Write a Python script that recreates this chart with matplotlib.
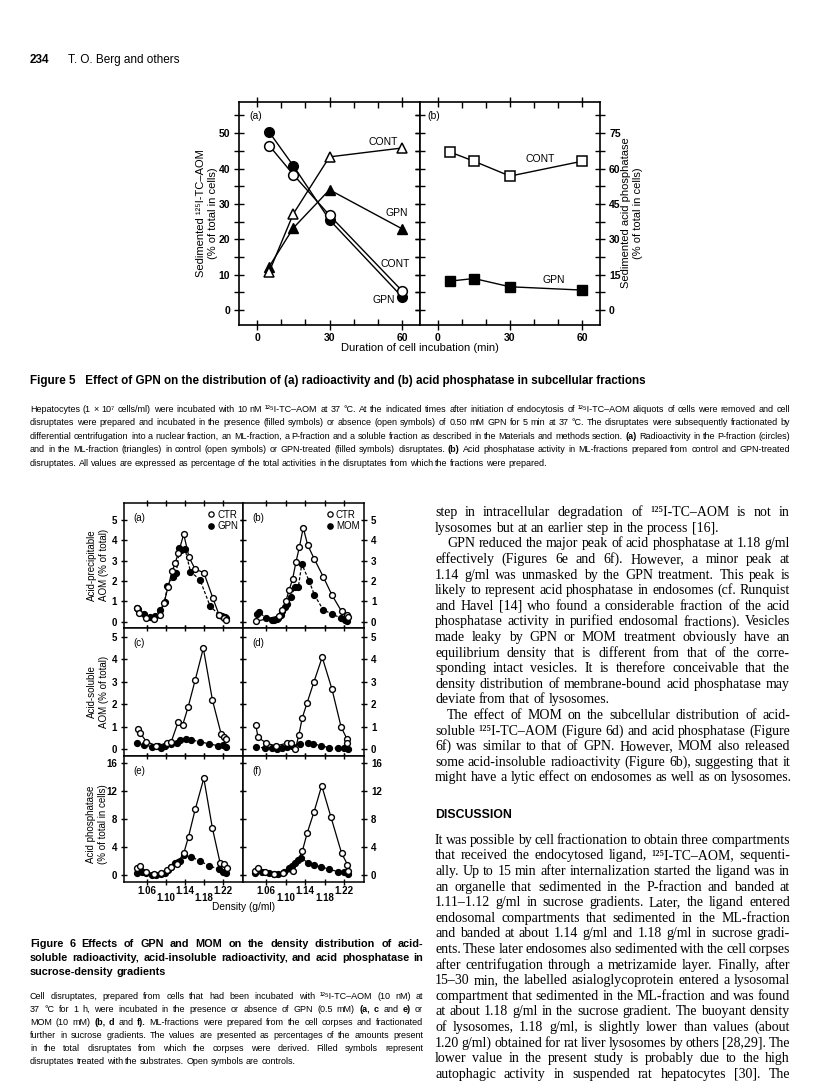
import matplotlib
matplotlib.use('Agg')
import matplotlib.pyplot as plt
from matplotlib.lines import Line2D
from matplotlib.ticker import MultipleLocator, FixedLocator

W, H = 816, 1089
SANS = ['Liberation Sans', 'DejaVu Sans']
SERIF = ['Liberation Serif', 'DejaVu Serif']
plt.rcParams['font.family'] = SANS

# ---------------- data: Figure 5 ----------------
times = [5, 15, 30, 60]
p_cont = [46.5, 38.3, 26.8, 5.5]
p_gpn = [50.3, 40.8, 25.5, 3.8]
ml_cont = [10.8, 27.2, 43.3, 45.8]
ml_gpn = [12.3, 23.2, 34.0, 23.0]
acp_cont = [67.0, 63.1, 56.8, 63.1]
acp_gpn = [12.3, 13.4, 9.9, 8.5]

# ---------------- data: Figure 6 ----------------
dens_ticks = [1.06, 1.10, 1.14, 1.18, 1.22]
dens_labels = ['1.06', '1.10', '1.14', '1.18', '1.22']

dens_a_ctr = [1.040, 1.044, 1.057, 1.075, 1.087, 1.096, 1.104, 1.113, 1.119, 1.126, 1.137, 1.148, 1.161, 1.179, 1.198, 1.211, 1.222, 1.225]
val_a_ctr = [0.67, 0.42, 0.18, 0.13, 0.34, 0.95, 1.70, 2.50, 2.88, 3.40, 4.30, 3.17, 2.58, 2.42, 1.16, 0.34, 0.18, 0.07]
dens_a_gpn = [1.039, 1.042, 1.0545, 1.066, 1.077, 1.088, 1.097, 1.103, 1.115, 1.1215, 1.128, 1.132, 1.140, 1.151, 1.171, 1.192, 1.211, 1.218, 1.223, 1.225]
val_a_gpn = [0.67, 0.62, 0.39, 0.23, 0.29, 0.59, 0.98, 1.76, 2.22, 2.42, 3.64, 3.53, 3.56, 2.47, 2.06, 0.78, 0.34, 0.29, 0.26, 0.18]

dens_b_ctr = [1.038, 1.086, 1.093, 1.100, 1.107, 1.114, 1.121, 1.128, 1.136, 1.145, 1.159, 1.177, 1.195, 1.215, 1.2255, 1.228]
val_b_ctr = [0.02, 0.29, 0.59, 1.00, 1.57, 2.09, 2.94, 3.66, 4.62, 3.77, 3.07, 2.22, 1.32, 0.51, 0.34, 0.26]
dens_b_mom = [1.041, 1.045, 1.060, 1.072, 1.076, 1.081, 1.085, 1.090, 1.093, 1.099, 1.103, 1.110, 1.119, 1.126, 1.133, 1.148, 1.159, 1.177, 1.195, 1.214, 1.221, 1.226]
val_b_mom = [0.39, 0.47, 0.18, 0.10, 0.07, 0.13, 0.18, 0.34, 0.51, 0.75, 0.88, 1.21, 1.70, 1.73, 2.84, 2.01, 1.32, 0.59, 0.39, 0.18, 0.07, 0.02]

dens_c_ctr = [1.041, 1.045, 1.059, 1.080, 1.101, 1.111, 1.125, 1.135, 1.146, 1.161, 1.178, 1.197, 1.215, 1.222, 1.226]
val_c_ctr = [0.92, 0.74, 0.34, 0.15, 0.27, 0.34, 1.20, 1.10, 1.86, 3.08, 4.49, 2.19, 0.70, 0.53, 0.46]
dens_c_gpn = [1.039, 1.054, 1.070, 1.083, 1.090, 1.097, 1.111, 1.122, 1.130, 1.141, 1.153, 1.170, 1.190, 1.208, 1.220, 1.225]
val_c_gpn = [0.29, 0.19, 0.12, 0.15, 0.04, 0.15, 0.24, 0.29, 0.41, 0.44, 0.41, 0.34, 0.24, 0.16, 0.19, 0.12]

dens_d_ctr = [1.038, 1.043, 1.060, 1.080, 1.103, 1.110, 1.120, 1.127, 1.134, 1.144, 1.158, 1.175, 1.195, 1.214, 1.226, 1.227]
val_d_ctr = [1.10, 0.53, 0.27, 0.15, 0.27, 0.29, 0.02, 0.64, 1.40, 2.07, 3.00, 4.09, 2.68, 0.98, 0.46, 0.29]
dens_d_mom = [1.039, 1.058, 1.072, 1.082, 1.093, 1.103, 1.113, 1.130, 1.146, 1.157, 1.172, 1.189, 1.208, 1.220, 1.229]
val_d_mom = [0.12, 0.04, 0.04, 0.01, 0.04, 0.12, 0.16, 0.24, 0.27, 0.24, 0.16, 0.07, 0.04, 0.04, 0.01]

dens_e_ctr = [1.040, 1.045, 1.059, 1.075, 1.090, 1.101, 1.111, 1.122, 1.137, 1.147, 1.161, 1.179, 1.197, 1.213, 1.221, 1.227]
val_e_ctr = [1.05, 1.29, 0.48, 0.10, 0.30, 0.72, 1.19, 1.58, 3.10, 5.50, 9.40, 13.85, 6.70, 1.77, 1.53, 1.05]
dens_e_gpn = [1.040, 1.050, 1.059, 1.070, 1.080, 1.090, 1.097, 1.104, 1.111, 1.118, 1.125, 1.130, 1.137, 1.153, 1.171, 1.190, 1.211, 1.220, 1.225]
val_e_gpn = [0.33, 0.48, 0.24, 0.0, 0.0, 0.14, 0.33, 0.72, 1.19, 1.67, 1.90, 2.05, 2.87, 2.62, 2.00, 1.33, 0.82, 0.48, 0.33]

dens_f_ctr = [1.037, 1.042, 1.058, 1.075, 1.095, 1.115, 1.134, 1.144, 1.158, 1.174, 1.193, 1.215, 1.227, 1.228]
val_f_ctr = [0.62, 0.96, 0.48, 0.15, 0.25, 0.60, 3.40, 6.00, 9.00, 12.80, 8.30, 3.10, 1.50, 0.62]
dens_f_mom = [1.037, 1.051, 1.065, 1.075, 1.085, 1.096, 1.106, 1.113, 1.120, 1.126, 1.132, 1.146, 1.158, 1.173, 1.189, 1.208, 1.219, 1.228]
val_f_mom = [0.24, 0.38, 0.24, 0.14, 0.20, 0.48, 0.96, 1.29, 1.77, 2.15, 2.39, 1.77, 1.43, 1.19, 0.82, 0.48, 0.38, 0.10]

# ---------------- text ----------------
fig5_title = 'Figure 5   Effect of GPN on the distribution of (a) radioactivity and (b) acid phosphatase in subcellular fractions'
fig5_caption = [
    'Hepatocytes (1 × 10⁷ cells/ml) were incubated with 10 nM ¹²⁵I-TC–AOM at 37 °C. At the indicated times after initiation of endocytosis of ¹²⁵I-TC–AOM aliquots of cells were removed and cell',
    'disruptates were prepared and incubated in the presence (filled symbols) or absence (open symbols) of 0.50 mM GPN for 5 min at 37 °C. The disruptates were subsequently fractionated by',
    'differential centrifugation into a nuclear fraction, an ML-fraction, a P-fraction and a soluble fraction as described in the Materials and methods section. §(a) Radioactivity in the P-fraction (circles)',
    'and in the ML-fraction (triangles) in control (open symbols) or GPN-treated (filled symbols) disruptates. §(b) Acid phosphatase activity in ML-fractions prepared from control and GPN-treated',
    'disruptates. All values are expressed as percentage of the total activities in the disruptates from which the fractions were prepared.',
]
fig6_title = [
    'Figure 6   Effects of GPN and MOM on the density distribution of acid-',
    'soluble radioactivity, acid-insoluble radioactivity, and acid phosphatase in',
    'sucrose-density gradients',
]
fig6_caption = [
    'Cell disruptates, prepared from cells that had been incubated with ¹²⁵I-TC–AOM (10 nM) at',
    '37 °C for 1 h, were incubated in the presence or absence of GPN (0.5 mM) (§a, §c and §e) or',
    'MOM (10 mM) (§b, §d and §f). ML-fractions were prepared from the cell corpses and fractionated',
    'further in sucrose gradients. The values are presented as percentages of the amounts present',
    'in the total disruptates from which the corpses were derived. Filled symbols represent',
    'disruptates treated with the substrates. Open symbols are controls.',
]
body_1 = [
    ('step in intracellular degradation of ¹²⁵I-TC–AOM is not in', 0, True),
    ('lysosomes but at an earlier step in the process [16].', 0, False),
    ('GPN reduced the major peak of acid phosphatase at 1.18 g/ml', 1, True),
    ('effectively (Figures 6e and 6f). However, a minor peak at', 0, True),
    ('1.14 g/ml was unmasked by the GPN treatment. This peak is', 0, True),
    ('likely to represent acid phosphatase in endosomes (cf. Runquist', 0, True),
    ('and Havel [14] who found a considerable fraction of the acid', 0, True),
    ('phosphatase activity in purified endosomal fractions). Vesicles', 0, True),
    ('made leaky by GPN or MOM treatment obviously have an', 0, True),
    ('equilibrium density that is different from that of the corre-', 0, True),
    ('sponding intact vesicles. It is therefore conceivable that the', 0, True),
    ('density distribution of membrane-bound acid phosphatase may', 0, True),
    ('deviate from that of lysosomes.', 0, False),
    ('The effect of MOM on the subcellular distribution of acid-', 1, True),
    ('soluble ¹²⁵I-TC–AOM (Figure 6d) and acid phosphatase (Figure', 0, True),
    ('6f) was similar to that of GPN. However, MOM also released', 0, True),
    ('some acid-insoluble radioactivity (Figure 6b), suggesting that it', 0, True),
    ('might have a lytic effect on endosomes as well as on lysosomes.', 0, False),
]
body_2 = [
    'It was possible by cell fractionation to obtain three compartments',
    'that received the endocytosed ligand, ¹²⁵I-TC–AOM, sequenti-',
    'ally. Up to 15 min after internalization started the ligand was in',
    'an organelle that sedimented in the P-fraction and banded at',
    '1.11–1.12 g/ml in sucrose gradients. Later, the ligand entered',
    'endosomal compartments that sedimented in the ML-fraction',
    'and banded at about 1.14 g/ml and 1.18 g/ml in sucrose gradi-',
    'ents. These later endosomes also sedimented with the cell corpses',
    'after centrifugation through a metrizamide layer. Finally, after',
    '15–30 min, the labelled asialoglycoprotein entered a lysosomal',
    'compartment that sedimented in the ML-fraction and was found',
    'at about 1.18 g/ml in the sucrose gradient. The buoyant density',
    'of lysosomes, 1.18 g/ml, is slightly lower than values (about',
    '1.20 g/ml) obtained for rat liver lysosomes by others [28,29]. The',
    'lower value in the present study is probably due to the high',
    'autophagic activity in suspended rat hepatocytes [30]. The',
]

fig = plt.figure(figsize=(W / 100, H / 100), dpi=100)
R = fig.canvas.get_renderer()


def fx(px):
    return px / W


def fy(py):
    return 1 - py / H


def add_ax(l, t, r, b):
    return fig.add_axes([l / W, 1 - b / H, (r - l) / W, (b - t) / H])


def put_line(line, x0, x1, yc, size, family, weight='normal', justify=True):
    words = line.split()
    ts = []
    for w in words:
        wt = weight
        if '§' in w:
            w = w.replace('§', '')
            wt = 'bold'
        ts.append(fig.text(0, 0, w, size=size, family=family, weight=wt,
                           va='baseline', ha='left'))
    em = size * 100 / 72
    sp = 0.25 * em
    widths = [t.get_window_extent(R).width for t in ts]
    avail = x1 - x0
    n = len(ts)
    need = sum(widths) + 0.55 * sp * (n - 1)
    if need > avail:
        f = avail / need
        for t in ts:
            t.set_fontsize(size * f)
        widths = [t.get_window_extent(R).width for t in ts]
        sp *= f
    if justify and n > 1:
        gap = (avail - sum(widths)) / (n - 1)
    else:
        gap = sp
    base = yc + 0.3 * em
    x = x0
    for t, w in zip(ts, widths):
        t.set_position((fx(x), fy(base)))
        x += w + gap


# ---------------- header ----------------
fig.text(fx(30), fy(60), '234', size=8.5, weight='bold', va='center', ha='left')
fig.text(fx(68), fy(60), 'T. O. Berg and others', size=8.5, va='center', ha='left')

# ---------------- Figure 5 ----------------
axA = add_ax(239, 102, 420, 325)
axB = add_ax(420, 102, 600, 325)
for ax in (axA, axB):
    ax.set_xlim(-7.5, 67.5)
    ax.xaxis.set_major_locator(FixedLocator([0, 30, 60]))
    ax.xaxis.set_minor_locator(MultipleLocator(10))
    ax.tick_params(axis='x', which='major', direction='inout', length=7, width=1,
                   top=True, bottom=True, labelsize=7.5, pad=2)
    ax.tick_params(axis='x', which='minor', direction='in', length=4, width=1,
                   top=True, bottom=True)
    for s in ax.spines.values():
        s.set_linewidth(1.2)

axA.set_ylim(-4.2, 58.8)
axA.yaxis.set_major_locator(MultipleLocator(10))
axA.yaxis.set_minor_locator(MultipleLocator(5))
axA.tick_params(axis='y', which='both', direction='inout', length=7, width=1,
                left=True, right=True, labelsize=7.5, pad=3)

axB.set_ylim(-6.3, 88.2)
axB.yaxis.set_major_locator(MultipleLocator(15))
axB.yaxis.set_minor_locator(MultipleLocator(7.5))
axB.tick_params(axis='y', which='both', direction='inout', length=7, width=1,
                left=True, right=True, labelleft=False, labelright=True,
                labelsize=7.5, pad=3)

kw_open = dict(color='k', mfc='white', mec='k', mew=1.1, lw=1.0)
kw_fill = dict(color='k', mfc='k', mec='k', mew=1.0, lw=1.0)
axA.plot(times, p_gpn, marker='o', ms=7, **kw_fill)
axA.plot(times, p_cont, marker='o', ms=7, **kw_open)
axA.plot(times, ml_gpn, marker='^', ms=7, **kw_fill)
axA.plot(times, ml_cont, marker='^', ms=7, **kw_open)
axB.plot(times, acp_cont, marker='s', ms=6.5, **kw_open)
axB.plot(times, acp_gpn, marker='s', ms=6.5, **kw_fill)

axA.text(52.1, 47.5, 'CONT', ha='center', va='center', size=7.5)
axA.text(57.9, 27.4, 'GPN', ha='center', va='center', size=7.5)
axA.text(57.4, 13.0, 'CONT', ha='center', va='center', size=7.5)
axA.text(52.5, 2.8, 'GPN', ha='center', va='center', size=7.5)
axB.text(42.4, 64.0, 'CONT', ha='center', va='center', size=7.5)
axB.text(48.3, 12.7, 'GPN', ha='center', va='center', size=7.5)
axA.text(0.06, 0.935, '(a)', transform=axA.transAxes, size=7.5, va='center', ha='left')
axB.text(0.04, 0.935, '(b)', transform=axB.transAxes, size=7.5, va='center', ha='left')

for ax in (axA, axB):
    for lbl in ax.get_xticklabels() + ax.get_yticklabels():
        lbl.set_fontweight('bold')

fig.text(fx(207), fy(213), 'Sedimented ¹²⁵I-TC–AOM\n(% of total in cells)', rotation=90,
         ha='center', va='center', multialignment='center', size=8, linespacing=1.25)
fig.text(fx(632), fy(213), 'Sedimented acid phosphatase\n(% of total in cells)', rotation=90,
         ha='center', va='center', multialignment='center', size=8, linespacing=1.25)
fig.text(fx(420), fy(348), 'Duration of cell incubation (min)', ha='center', va='center', size=8)

fig.text(fx(30), fy(381), fig5_title, size=8.4, weight='bold', ha='left', va='center')
for i, line in enumerate(fig5_caption):
    put_line(line, 30, 790, 409 + 13.5 * i, 6.5, SANS, justify=(i < len(fig5_caption) - 1))

# ---------------- Figure 6 ----------------
cols = [(124, 243), (243, 364)]
rows = [(503, 628), (628, 756), (756, 882)]
panels = [
    ('(a)', dens_a_ctr, val_a_ctr, dens_a_gpn, val_a_gpn, 'GPN', (-0.3, 5.83), 1),
    ('(b)', dens_b_ctr, val_b_ctr, dens_b_mom, val_b_mom, 'MOM', (-0.3, 5.83), 1),
    ('(c)', dens_c_ctr, val_c_ctr, dens_c_gpn, val_c_gpn, None, (-0.3, 5.39), 1),
    ('(d)', dens_d_ctr, val_d_ctr, dens_d_mom, val_d_mom, None, (-0.3, 5.39), 1),
    ('(e)', dens_e_ctr, val_e_ctr, dens_e_gpn, val_e_gpn, None, (-1.0, 17.05), 4),
    ('(f)', dens_f_ctr, val_f_ctr, dens_f_mom, val_f_mom, None, (-1.0, 17.05), 4),
]
for k, (lab, dc, vc, dt, vt, leg, ylim, step) in enumerate(panels):
    r, c = divmod(k, 2)
    ax = add_ax(cols[c][0], rows[r][0], cols[c][1], rows[r][1])
    ax.set_xlim(1.012, 1.261)
    ax.set_ylim(*ylim)
    ax.plot(dt, vt, marker='o', ms=4.2, color='k', mfc='k', mec='k', lw=0.9,
            ls=(0, (2.5, 1.5)))
    ax.plot(dc, vc, marker='o', ms=4.2, color='k', mfc='white', mec='k', mew=1.0, lw=0.9)
    ax.xaxis.set_major_locator(FixedLocator(dens_ticks))
    ax.yaxis.set_major_locator(MultipleLocator(step))
    ax.tick_params(axis='x', direction='inout', length=5, width=1, top=True, bottom=True,
                   labelbottom=False)
    ax.tick_params(axis='y', direction='inout', length=5, width=1, left=True, right=True,
                   labelleft=(c == 0), labelright=(c == 1), labelsize=7, pad=2.5)
    for lbl in ax.get_yticklabels():
        lbl.set_fontweight('bold')
    for s in ax.spines.values():
        s.set_linewidth(1.1)
    ax.text(0.08, 0.88, lab, transform=ax.transAxes, size=7, ha='left', va='center')
    if leg:
        handles = [Line2D([], [], marker='o', ls='none', ms=3.8, mfc='white', mec='k', mew=0.9),
                   Line2D([], [], marker='o', ls='none', ms=3.8, mfc='k', mec='k')]
        ax.legend(handles, ['CTR', leg], loc='upper right', bbox_to_anchor=(1.02, 1.0),
                  frameon=False, fontsize=7, handlelength=0.6, handletextpad=0.35,
                  labelspacing=0.15, borderaxespad=0.3)
    if r == 2:
        for i, (d, s) in enumerate(zip(dens_ticks, dens_labels)):
            ax.text(d, -0.075 if i % 2 == 0 else -0.125, s, transform=ax.get_xaxis_transform(),
                    ha='center', va='center', size=7, weight='bold')

fig.text(fx(98), fy(565), 'Acid-precipitable\nAOM (% of total)', rotation=90, ha='center',
         va='center', multialignment='center', size=7, linespacing=1.25)
fig.text(fx(98), fy(692), 'Acid-soluble\nAOM (% of total)', rotation=90, ha='center',
         va='center', multialignment='center', size=7, linespacing=1.25)
fig.text(fx(97), fy(824), 'Acid phosphatase\n(% of total in cells)', rotation=90, ha='center',
         va='center', multialignment='center', size=7, linespacing=1.25)
fig.text(fx(244), fy(907), 'Density (g/ml)', ha='center', va='center', size=7.3)

for i, line in enumerate(fig6_title):
    put_line(line, 30, 423, 944 + 14 * i, 7.8, SANS, weight='bold', justify=(i < 2))
for i, line in enumerate(fig6_caption):
    put_line(line, 30, 423, 996 + 13 * i, 6.5, SANS, justify=(i < len(fig6_caption) - 1))

# ---------------- right column body text ----------------
LS = 15.6
for i, (line, indent, just) in enumerate(body_1):
    put_line(line, 435 + indent * 12, 790, 512 + LS * i, 10.0, SERIF, justify=just)
y_head = 512 + LS * 17 + 2.4 * LS
fig.text(fx(435), fy(y_head), 'DISCUSSION', size=8.8, weight='bold', ha='left', va='center')
y0 = y_head + 1.6 * LS
for i, line in enumerate(body_2):
    put_line(line, 435, 790, y0 + LS * i, 10.0, SERIF, justify=True)

fig.savefig('out.png', dpi=100, facecolor='white')
